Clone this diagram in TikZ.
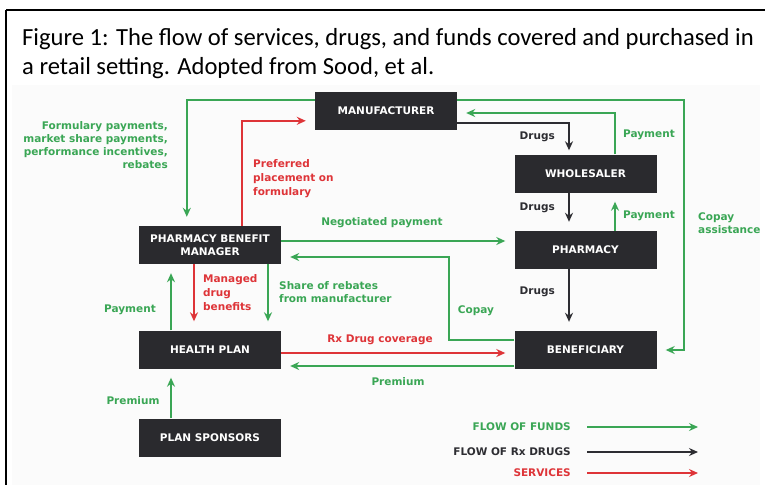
\documentclass[tikz,border=0pt]{standalone}
\usepackage{fontspec}
\setmainfont{DejaVu Sans}
\newfontfamily\titlefont{Carlito}
\usetikzlibrary{arrows.meta,calc}
\definecolor{fundgreen}{RGB}{58,166,85}
\definecolor{drugdark}{RGB}{45,45,50}
\definecolor{servred}{RGB}{222,52,56}
\definecolor{boxdark}{RGB}{42,42,46}
\tikzset{
  box/.style={fill=boxdark,text=white,minimum width=142pt,minimum height=38pt,inner sep=2pt,align=center,font=\bfseries\fontsize{10.5}{13}\selectfont},
  flow/.style={line width=1.6pt,-{Stealth[length=9pt,width=8pt]},shorten >=9pt},
  fund/.style={flow,color=fundgreen},
  drug/.style={flow,color=drugdark},
  serv/.style={flow,color=servred},
  lab/.style={font=\bfseries\fontsize{10.5}{14}\selectfont,inner sep=0pt},
}
\begin{document}
\begin{tikzpicture}[x=1pt,y=-1pt]
\useasboundingbox (0,0) rectangle (765,485);

% frame and title
\fill[gray!3] (12,85) rectangle (760,485);
\draw[line width=2pt] (6,10) -- (765,10);
\draw[line width=2.4pt] (6,10) -- (6,485);
\node[anchor=north west,align=left,inner sep=0pt,font=\titlefont\fontsize{24.6}{29.5}\selectfont] (title) at (22,28) {Figure 1: The flow of services, drugs, and funds covered and purchased in\\a retail setting. Adopted from Sood, et al.};

% boxes
\node[box] (man) at (386,111) {MANUFACTURER};
\node[box] (who) at (585.5,173.5) {WHOLESALER};
\node[box] (pha) at (585.5,250) {PHARMACY};
\node[box] (ben) at (585.5,350) {BENEFICIARY};
\node[box] (pbm) at (210,245) {PHARMACY BENEFIT\\MANAGER};
\node[box] (hp) at (210,349.5) {HEALTH PLAN};
\node[box] (ps) at (210,437.5) {PLAN SPONSORS};

% manufacturer loop
\draw[fund] ($(man.north west)+(0,8)$) -| ($(pbm.north west)+(48,0)$);
\draw[serv] ($(pbm.north west)+(103,0)$) |- ($(man.north west)+(0,29)$);
\draw[fund] ($(man.north east)+(0,8)$) -| ($(ben.east)+(27,0)$) -- (ben.east);
\draw[fund] ($(who.north)+(29.5,0)$) |- ($(man.east)+(0,2)$);
\draw[drug,shorten >=4pt] ($(man.south east)+(0,-7)$) -| ($(who.north)+(-16.5,0)$);

\node[lab,anchor=north east,align=right,text=fundgreen,font=\bfseries\fontsize{10.5}{13}\selectfont] (lform) at (168,121) {Formulary payments,\\market share payments,\\performance incentives,\\rebates};
\node[lab,anchor=north west,align=left,text=servred] (lpref) at (253,159) {Preferred\\placement on\\formulary};
\node[lab,anchor=west,align=left,text=fundgreen,font=\bfseries\fontsize{10.5}{12.5}\selectfont] (lcopa) at (698,223) {Copay\\assistance};
\node[lab,anchor=west,text=fundgreen] (lpayw) at (623,135) {Payment};
\node[lab,anchor=east,text=drugdark] (ldrug1) at (555,137) {Drugs};

% wholesaler, pharmacy
\draw[drug] ($(who.south)+(-16.5,0)$) -- ($(pha.north)+(-16.5,0)$);
\draw[fund] ($(pha.north)+(29.5,0)$) -- ($(who.south)+(29.5,0)$);
\draw[drug] ($(pha.south)+(-16.5,0)$) -- ($(ben.north)+(-16.5,0)$);
\node[lab,anchor=east,text=drugdark] (ldrug2) at (555,208) {Drugs};
\node[lab,anchor=west,text=fundgreen] (lpayp) at (623,216) {Payment};
\node[lab,anchor=east,text=drugdark] (ldrug3) at (555,292) {Drugs};

% pbm links
\draw[fund] ($(pbm.east)+(0,-4)$) coordinate (neg) -- (neg -| pha.west);
\draw[fund] ($(ben.west)+(0,-10)$) -| ($(pbm.east)+(168,12)$) -- ($(pbm.east)+(0,12)$);
\node[lab,text=fundgreen] (lneg) at (382,223) {Negotiated payment};
\node[lab,text=fundgreen] (lcopay) at (476,311) {Copay};

% health plan
\draw[fund] ($(pbm.south)+(58,0)$) -- ($(hp.north)+(58,0)$);
\draw[serv] ($(pbm.south)+(-16,0)$) -- ($(hp.north)+(-16,0)$);
\draw[fund] ($(hp.north)+(-39,0)$) -- ($(pbm.south)+(-39,0)$);
\draw[serv] ($(hp.east)+(0,3.5)$) coordinate (rx) -- (rx -| ben.west);
\draw[fund] ($(ben.west)+(0,16)$) coordinate (prem) -- (prem -| hp.east);
\draw[fund] ($(ps.north)+(-39,0)$) -- ($(hp.south)+(-39,0)$);

\node[lab,anchor=west,align=left,text=fundgreen,font=\bfseries\fontsize{10.5}{13}\selectfont] (lshare) at (279,292) {Share of rebates\\from manufacturer};
\node[lab,anchor=west,align=left,text=servred] (lmanaged) at (203,292.5) {Managed\\drug\\benefits};
\node[lab,text=fundgreen] (lpayh) at (130,310) {Payment};
\node[lab,text=servred] (lrx) at (380,340) {Rx Drug coverage};
\node[lab,text=fundgreen] (lprem) at (398,382) {Premium};
\node[lab,text=fundgreen] (lprems) at (133,401) {Premium};

% legend
\foreach \n/\c/\t/\y in {funds/fundgreen/FLOW OF FUNDS/427,drugs/drugdark/FLOW OF Rx DRUGS/452,serv/servred/SERVICES/473}{
  \node[lab,anchor=east,text=\c] (leg\n) at (571,\y) {\t};
  \coordinate (leg\n a) at (587,\y);
  \coordinate (leg\n b) at (698,\y);
  \draw[flow,color=\c,line width=1.3pt,shorten >=0pt] (leg\n a) -- (leg\n b);
}
\end{tikzpicture}
\end{document}
